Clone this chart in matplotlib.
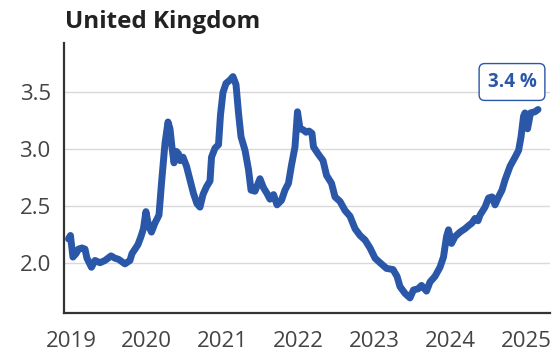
import matplotlib
matplotlib.use("Agg")
import matplotlib.pyplot as plt

plt.rcParams['font.family'] = ['Open Sans', 'DejaVu Sans']

title = "United Kingdom"
last_label = "3.4 %"

years = [2018.967, 2018.993, 2019.026, 2019.066, 2019.099, 2019.145, 2019.185, 2019.211,
         2019.270, 2019.317, 2019.383, 2019.449, 2019.528, 2019.580, 2019.627, 2019.712,
         2019.778, 2019.805, 2019.884, 2019.923, 2019.956, 2019.989, 2020.022, 2020.062,
         2020.108, 2020.161, 2020.194, 2020.240, 2020.280, 2020.306, 2020.332, 2020.359,
         2020.392, 2020.418, 2020.438, 2020.478, 2020.524, 2020.570, 2020.616, 2020.662,
         2020.702, 2020.741, 2020.788, 2020.834, 2020.854, 2020.900, 2020.946, 2020.972,
         2021.005, 2021.045, 2021.098, 2021.137, 2021.177, 2021.210, 2021.243, 2021.296,
         2021.342, 2021.375, 2021.427, 2021.493, 2021.540, 2021.586, 2021.625, 2021.672,
         2021.718, 2021.777, 2021.823, 2021.869, 2021.909, 2021.955, 2021.988, 2022.021,
         2022.067, 2022.100, 2022.140, 2022.179, 2022.199, 2022.259, 2022.325, 2022.371,
         2022.437, 2022.483, 2022.549, 2022.615, 2022.681, 2022.747, 2022.813, 2022.879,
         2022.945, 2023.011, 2023.077, 2023.162, 2023.248, 2023.301, 2023.340, 2023.406,
         2023.472, 2023.518, 2023.578, 2023.624, 2023.690, 2023.736, 2023.802, 2023.868,
         2023.914, 2023.954, 2023.980, 2024.020, 2024.066, 2024.132, 2024.198, 2024.251,
         2024.290, 2024.330, 2024.369, 2024.396, 2024.462, 2024.508, 2024.554, 2024.594,
         2024.640, 2024.686, 2024.726, 2024.792, 2024.858, 2024.905, 2024.937, 2024.970,
         2024.989, 2025.023, 2025.062, 2025.121, 2025.161]

values = [2.21, 2.24, 2.05, 2.08, 2.12, 2.13, 2.12, 2.04,
          1.96, 2.02, 2.00, 2.02, 2.06, 2.04, 2.03, 1.99,
          2.02, 2.08, 2.16, 2.23, 2.30, 2.45, 2.33, 2.27,
          2.35, 2.42, 2.70, 3.05, 3.24, 3.18, 3.02, 2.88,
          2.98, 2.96, 2.90, 2.93, 2.85, 2.73, 2.61, 2.52,
          2.49, 2.60, 2.67, 2.72, 2.93, 3.01, 3.04, 3.30,
          3.50, 3.58, 3.61, 3.64, 3.57, 3.32, 3.11, 2.99,
          2.82, 2.64, 2.63, 2.74, 2.66, 2.61, 2.56, 2.60,
          2.51, 2.55, 2.64, 2.70, 2.86, 3.02, 3.33, 3.18,
          3.17, 3.15, 3.16, 3.14, 3.02, 2.96, 2.90, 2.77,
          2.70, 2.58, 2.54, 2.46, 2.41, 2.30, 2.24, 2.20,
          2.13, 2.04, 2.00, 1.95, 1.94, 1.88, 1.79, 1.73,
          1.69, 1.76, 1.77, 1.80, 1.75, 1.83, 1.88, 1.96,
          2.05, 2.23, 2.29, 2.17, 2.23, 2.27, 2.30, 2.33,
          2.35, 2.39, 2.37, 2.42, 2.49, 2.57, 2.58, 2.51,
          2.58, 2.64, 2.73, 2.85, 2.93, 2.99, 3.11, 3.29,
          3.32, 3.18, 3.32, 3.33, 3.35]

xticks = [2019, 2020, 2021, 2022, 2023, 2024, 2025]
xtick_labels = ["2019", "2020", "2021", "2022", "2023", "2024", "2025"]
yticks = [2.0, 2.5, 3.0, 3.5]
ytick_labels = ["2.0", "2.5", "3.0", "3.5"]

line_color = "#2a57a8"

fig = plt.figure(figsize=(5.55, 3.52), dpi=100)
ax = fig.add_axes([64/555, 1-313/352, (550-64)/555, (313-43)/352])

ax.plot(years, values, color=line_color, lw=5.0, solid_capstyle='round',
        solid_joinstyle='round', zorder=3)

ax.set_xlim(2018.908, 2025.319)
ax.set_ylim(1.557, 3.936)
ax.set_xticks(xticks)
ax.set_xticklabels(xtick_labels)
ax.set_yticks(yticks)
ax.set_yticklabels(ytick_labels)
ax.tick_params(axis='both', length=0, labelsize=16, colors='#444444')
ax.tick_params(axis='x', pad=13)
ax.tick_params(axis='y', pad=9.5)
ax.grid(axis='y', color='#d9d9d9', lw=1.0, zorder=0)
ax.set_axisbelow(True)
for s in ['top', 'right']:
    ax.spines[s].set_visible(False)
for s in ['left', 'bottom']:
    ax.spines[s].set_color('#333333')
    ax.spines[s].set_linewidth(1.6)

fig.text(65/555, 1-27.5/352, title, fontsize=17.5, fontweight='bold',
         color='#222222', ha='left', va='baseline')

fig.text(512/555, 1-82/352, last_label, fontsize=13.5, fontweight='bold',
         color=line_color, ha='center', va='center',
         bbox=dict(boxstyle='round,pad=0.45,rounding_size=0.3', fc='white',
                   ec=line_color, lw=1.0))

fig.savefig("out.png", dpi=100)
